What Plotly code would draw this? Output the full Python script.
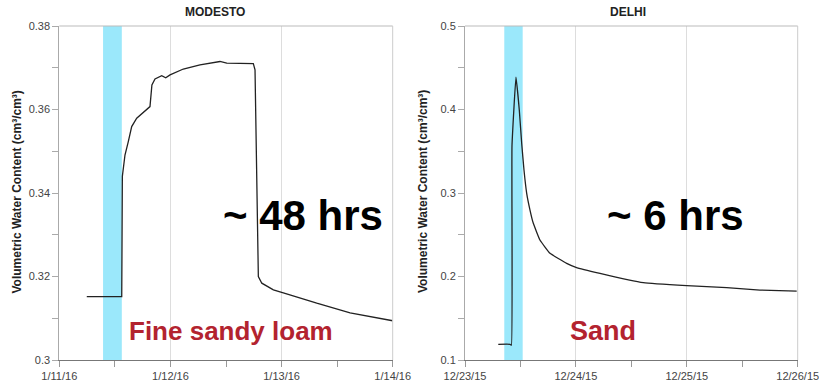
import plotly.graph_objects as go

W, H = 819, 391

# ---- data ----
modesto_time = ["2016-01-11 05:56", "2016-01-11 13:29", "2016-01-11 13:37", "2016-01-11 14:11",
                "2016-01-11 14:54", "2016-01-11 15:38", "2016-01-11 16:43", "2016-01-11 18:30",
                "2016-01-11 19:35", "2016-01-11 20:00", "2016-01-11 20:40", "2016-01-11 22:07",
                "2016-01-11 22:59", "2016-01-11 23:55", "2016-01-12 02:47", "2016-01-12 06:23",
                "2016-01-12 10:42", "2016-01-12 12:10", "2016-01-12 17:54", "2016-01-12 18:16",
                "2016-01-12 18:59", "2016-01-12 19:44", "2016-01-12 22:14", "2016-01-13 00:23",
                "2016-01-13 07:36", "2016-01-13 14:48", "2016-01-14 00:00"]
modesto_vwc = [0.3152, 0.3152, 0.3440, 0.3491, 0.3523, 0.3559, 0.3579, 0.3595,
               0.3607, 0.3659, 0.3673, 0.3681, 0.3676, 0.3683, 0.3697, 0.3707,
               0.3715, 0.3711, 0.3710, 0.3695, 0.3200, 0.3184, 0.3168, 0.3161,
               0.3136, 0.3113, 0.3094]

delhi_time = ["2015-12-23 07:12", "2015-12-23 09:45", "2015-12-23 10:03", "2015-12-23 10:10",
              "2015-12-23 11:02", "2015-12-23 11:45", "2015-12-23 12:16", "2015-12-23 12:46",
              "2015-12-23 13:21", "2015-12-23 14:04", "2015-12-23 14:47", "2015-12-23 16:13",
              "2015-12-23 18:24", "2015-12-23 22:00", "2015-12-24 00:01", "2015-12-24 05:13",
              "2015-12-24 14:36", "2015-12-24 23:59", "2015-12-25 08:38", "2015-12-25 15:50",
              "2015-12-25 23:47"]
delhi_vwc = [0.1188, 0.1188, 0.1178, 0.3560, 0.4386, 0.3994, 0.3595, 0.3275,
             0.2996, 0.2796, 0.2637, 0.2437, 0.2278, 0.2158, 0.2110, 0.2038,
             0.1926, 0.1890, 0.1866, 0.1838, 0.1826]

modesto_irrigation = ["2016-01-11 09:27", "2016-01-11 13:30"]
delhi_irrigation = ["2015-12-23 08:30", "2015-12-23 12:29"]

modesto_range = ["2016-01-11", "2016-01-14"]
delhi_range = ["2015-12-23", "2015-12-26"]

titles = ["MODESTO", "DELHI"]
y_title = "Volumetric Water Content (cm³/cm³)"
duration_labels = ["~ 48 hrs", "~ 6 hrs"]
soil_labels = ["Fine sandy loam", "Sand"]

FONT = "Liberation Sans, Arial, sans-serif"
LINE = "#222222"
BAND = "#9BE8FB"
RED = "#B3232F"

fig = go.Figure()
fig.add_trace(go.Scatter(x=modesto_time, y=modesto_vwc, mode="lines",
                         line=dict(color=LINE, width=1.3), xaxis="x", yaxis="y",
                         showlegend=False, hoverinfo="skip"))
fig.add_trace(go.Scatter(x=delhi_time, y=delhi_vwc, mode="lines",
                         line=dict(color=LINE, width=1.3, shape="spline", smoothing=0.3),
                         xaxis="x2", yaxis="y2", showlegend=False, hoverinfo="skip"))

def px_x(p):
    return p / W

def px_y(p):
    return 1 - p / H

xd1 = [px_x(59.3), px_x(392.7)]
xd2 = [px_x(465.0), px_x(797.7)]
yd = [px_y(360), px_y(26)]

common_x = dict(type="date", tickformat="%-m/%-d/%y", dtick=86400000,
                showgrid=True, gridcolor="#dddddd", gridwidth=1,
                showline=True, linecolor="#777777", linewidth=1,
                ticks="outside", ticklen=6, tickcolor="#999999",
                minor=dict(dtick=43200000, ticks="outside", ticklen=6, tickcolor="#999999", showgrid=False),
                tickfont=dict(family=FONT, size=11, color="#444444"),
                ticklabeloverflow="allow",
                zeroline=False, fixedrange=True, automargin=False)
common_y = dict(showgrid=False, showline=True, linecolor="#aaaaaa", linewidth=1,
                ticks="outside", ticklen=6, tickcolor="#aaaaaa",
                tickfont=dict(family=FONT, size=11, color="#444444"),
                zeroline=False, fixedrange=True, automargin=False)

fig.update_layout(
    width=W, height=H,
    margin=dict(l=0, r=0, t=0, b=0),
    paper_bgcolor="white", plot_bgcolor="white",
    xaxis=dict(domain=xd1, range=modesto_range, anchor="y", **common_x),
    yaxis=dict(domain=yd, range=[0.3, 0.38], dtick=0.02,
               minor=dict(dtick=0.01, ticks="outside", ticklen=6, tickcolor="#aaaaaa"),
               anchor="x", **common_y),
    xaxis2=dict(domain=xd2, range=delhi_range, anchor="y2", **common_x),
    yaxis2=dict(domain=yd, range=[0.1, 0.5], dtick=0.1,
                minor=dict(dtick=0.05, ticks="outside", ticklen=6, tickcolor="#aaaaaa"),
                anchor="x2", **common_y),
)

shapes = []
for xr, yr, band in [("x", "y", modesto_irrigation), ("x2", "y2", delhi_irrigation)]:
    shapes.append(dict(type="rect", xref=xr, yref=yr + " domain", x0=band[0], x1=band[1],
                       y0=0, y1=1, fillcolor=BAND, line=dict(width=0), layer="below"))
    shapes.append(dict(type="line", xref=xr + " domain", yref=yr + " domain", x0=0, x1=1,
                       y0=1, y1=1, line=dict(color="#bbbbbb", width=1)))
    shapes.append(dict(type="line", xref=xr + " domain", yref=yr + " domain", x0=1, x1=1,
                       y0=0, y1=1, line=dict(color="#cccccc", width=1)))
fig.update_layout(shapes=shapes)

def note(text, xc, yc, size, color, angle=0):
    return dict(text="<b>%s</b>" % text, x=px_x(xc), y=px_y(yc), xref="paper", yref="paper",
                xanchor="center", yanchor="middle", textangle=angle, showarrow=False,
                font=dict(family=FONT, size=size, color=color))

ann = [
    note(titles[0], 215, 12, 12, "#222222"),
    note(titles[1], 628, 12, 12, "#222222"),
    note(y_title, 16.5, 192, 12, "#222222", -90),
    note(y_title, 423, 192, 12, "#222222", -90),
    note(duration_labels[0], 303, 216, 42, "#000000"),
    note(duration_labels[1], 675, 216, 42, "#000000"),
    note(soil_labels[0], 231.3, 331, 26, RED),
    note(soil_labels[1], 603, 331, 27, RED),
]
fig.update_layout(annotations=ann)

# remove the default 8px page margin so the figure fills the window exactly
fig.write_html("out.html", config=dict(displayModeBar=False),
               post_script="document.body.style.margin='0';document.body.style.overflow='hidden';")
